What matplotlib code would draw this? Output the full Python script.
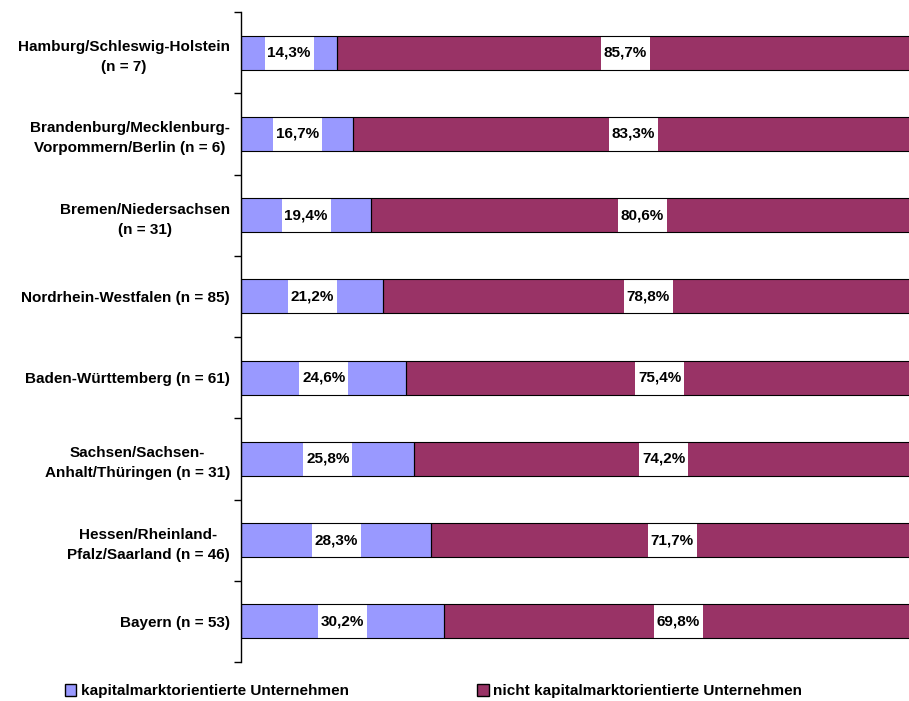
import matplotlib.pyplot as plt
import numpy as np

plt.rcParams['font.family'] = ['Liberation Sans', 'DejaVu Sans']
plt.rcParams['font.weight'] = 'bold'

regions = ['Hamburg/Schleswig-Holstein\n(n = 7)',
           'Brandenburg/Mecklenburg-\nVorpommern/Berlin (n = 6)',
           'Bremen/Niedersachsen\n(n = 31)',
           'Nordrhein-Westfalen (n = 85)',
           'Baden-Württemberg (n = 61)',
           'Sachsen/Sachsen-\nAnhalt/Thüringen (n = 31)',
           'Hessen/Rheinland-\nPfalz/Saarland (n = 46)',
           'Bayern (n = 53)']
kapital = [14.3, 16.7, 19.4, 21.2, 24.6, 25.8, 28.3, 30.2]
nicht = [85.7, 83.3, 80.6, 78.8, 75.4, 74.2, 71.7, 69.8]
series_names = ['kapitalmarktorientierte Unternehmen', 'nicht kapitalmarktorientierte Unternehmen']

fig = plt.figure(figsize=(9.09, 7.01), dpi=100)
ax = fig.add_axes([241/909, 1-662/701, 672/909, 650/701])

y = np.arange(len(regions))
k = np.array(kapital)
n = np.array(nicht)
bh = 0.42
b1 = ax.barh(y, k, height=bh, color='#9999FF', edgecolor='none')
b2 = ax.barh(y, n, left=k, height=bh, color='#993366', edgecolor='none')

# white label boxes, then bar outlines on top
box_w = 7.3
for i in range(len(regions)):
    for val, left in [(k[i], 0), (n[i], k[i])]:
        c = left + val / 2
        ax.barh(y[i], box_w, left=c - box_w / 2, height=bh, color='white', edgecolor='none', zorder=2)
        ax.text(c, y[i], f'{val:.1f}%'.replace('.', ','), ha='center', va='center',
                fontsize=11, fontweight='bold', zorder=4)
ax.barh(y, k, height=bh, color='none', edgecolor='black', linewidth=0.8, zorder=3)
ax.barh(y, n, left=k, height=bh, color='none', edgecolor='black', linewidth=0.8, zorder=3)

ax.set_xlim(0, 100)
ax.set_ylim(len(regions) - 0.5, -0.5)
ax.set_yticks(y)
ax.set_yticklabels(regions, fontsize=11, fontweight='bold', linespacing=1.55)
for lab in ax.get_yticklabels():
    lab.set_multialignment('center')
ax.tick_params(axis='y', which='major', length=0, pad=8)
ax.set_yticks(np.arange(len(regions) + 1) - 0.5, minor=True)
ax.tick_params(axis='y', which='minor', length=5, direction='out', width=1)
ax.set_xticks([])
for s in ['top', 'right', 'bottom']:
    ax.spines[s].set_visible(False)
ax.spines['left'].set_linewidth(1)

h1 = plt.Rectangle((0, 0), 1, 1, facecolor='#9999FF', edgecolor='black', linewidth=1)
h2 = plt.Rectangle((0, 0), 1, 1, facecolor='#993366', edgecolor='black', linewidth=1)
fig.legend([h1, h2], series_names, loc='center left', bbox_to_anchor=(51/909, 1 - 691/701),
           ncol=2, frameon=False, fontsize=11, handlelength=0.75, handleheight=0.9,
           handletextpad=0.3, columnspacing=8.4)

fig.savefig('out.png', dpi=100)
